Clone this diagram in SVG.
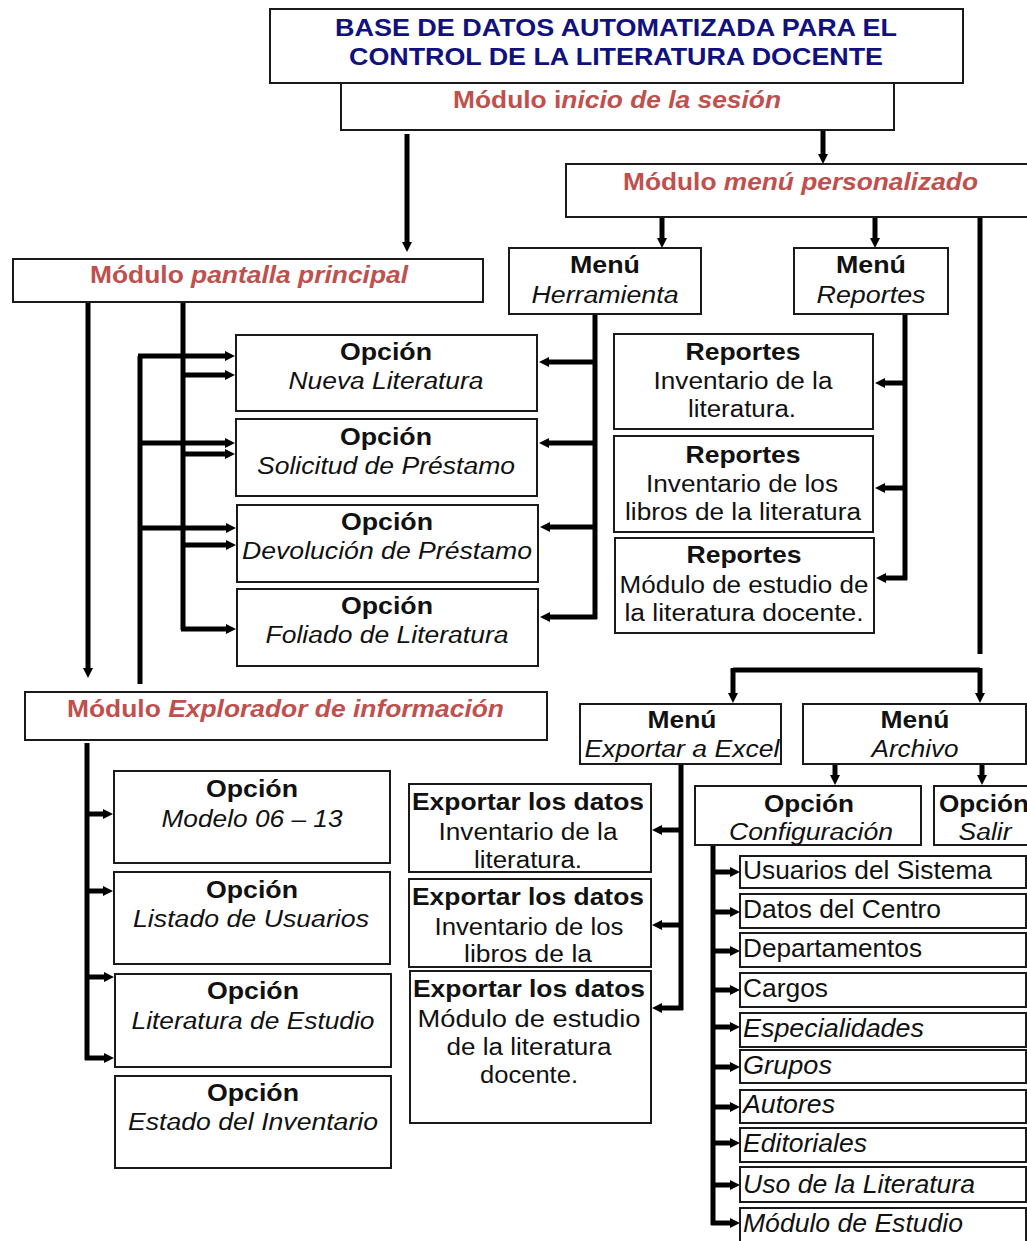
<svg xmlns="http://www.w3.org/2000/svg" width="1027" height="1241" viewBox="0 0 1027 1241">
<defs>
<style>
.bx{fill:#fff;stroke:#1a1a1a;stroke-width:2}
.t{font-family:"Liberation Sans",Arial,sans-serif;font-size:23px;fill:#111}
.c{text-anchor:middle}
.b{font-weight:bold}
.i{font-style:italic}
.ttl{font-family:"Liberation Sans",Arial,sans-serif;font-size:24px;font-weight:bold;fill:#10107f;text-anchor:middle}
.red{font-family:"Liberation Sans",Arial,sans-serif;font-size:23px;font-weight:bold;fill:#c0504d}
.li{font-family:"Liberation Sans",Arial,sans-serif;font-size:25px;fill:#111}
.ln{fill:none;stroke:#000;stroke-width:5;stroke-linejoin:miter}
.ar{fill:none;stroke:#000;stroke-width:5;marker-end:url(#ah)}
</style>
<marker id="ah" viewBox="0 0 10 10" refX="1" refY="5" markerWidth="10" markerHeight="10" markerUnits="userSpaceOnUse" orient="auto"><path d="M0,0 L10,5 L0,10 z" fill="#000"/></marker>
</defs>
<rect width="1027" height="1241" fill="#fff"/>

<g id="connectors">
<path class="ar" d="M407,134 V243"/>
<path class="ar" d="M823,131 V155"/>
<path class="ar" d="M662,217 V239"/>
<path class="ar" d="M875,217 V239"/>
<path class="ln" d="M980,217 V654"/>
<path class="ln" d="M733,670 H980"/>
<path class="ar" d="M733,668 V694"/>
<path class="ar" d="M980,668 V694"/>
<!-- Herramienta bus -->
<path class="ln" d="M595,314 V619"/>
<path class="ar" d="M597,362 H548"/>
<path class="ar" d="M597,443 H548"/>
<path class="ar" d="M597,527 H549"/>
<path class="ar" d="M597,617 H549"/>
<!-- Reportes bus -->
<path class="ln" d="M905,314 V580"/>
<path class="ar" d="M907,383 H884"/>
<path class="ar" d="M907,488 H884"/>
<path class="ar" d="M907,578 H885"/>
<!-- Pantalla buses -->
<path class="ar" d="M88,302 V669"/>
<path class="ln" d="M183,302 V630"/>
<path class="ar" d="M181,375 H226"/>
<path class="ar" d="M181,454 H226"/>
<path class="ar" d="M181,545 H227"/>
<path class="ar" d="M181,629 H227"/>
<!-- Explorador feedback -->
<path class="ln" d="M140,684 V356"/>
<path class="ar" d="M138,356 H226"/>
<path class="ar" d="M138,443 H226"/>
<path class="ar" d="M138,528 H227"/>
<!-- Explorador bus -->
<path class="ln" d="M87,743 V1060"/>
<path class="ar" d="M85,814 H104"/>
<path class="ar" d="M85,891 H104"/>
<path class="ar" d="M85,977 H105"/>
<path class="ar" d="M85,1058 H105"/>
<!-- Exportar bus -->
<path class="ln" d="M681,764 V1010"/>
<path class="ar" d="M683,830 H661"/>
<path class="ar" d="M683,925 H661"/>
<path class="ar" d="M683,1008 H661"/>
<!-- Archivo -->
<path class="ar" d="M835,764 V776"/>
<path class="ar" d="M982,764 V776"/>
<!-- Config bus -->
<path class="ln" d="M713,845 V1225"/>
<path class="ar" d="M711,872 H731"/>
<path class="ar" d="M711,912 H731"/>
<path class="ar" d="M711,951 H731"/>
<path class="ar" d="M711,990 H731"/>
<path class="ar" d="M711,1027 H731"/>
<path class="ar" d="M711,1067 H731"/>
<path class="ar" d="M711,1107 H731"/>
<path class="ar" d="M711,1143 H731"/>
<path class="ar" d="M711,1185 H731"/>
<path class="ar" d="M711,1223 H731"/>
</g>

<g id="title">
<rect class="bx" x="270" y="9" width="693" height="74"/>
<text class="ttl" x="616" y="36" textLength="562" lengthAdjust="spacingAndGlyphs">BASE DE DATOS AUTOMATIZADA PARA EL</text>
<text class="ttl" x="616" y="65" textLength="534" lengthAdjust="spacingAndGlyphs">CONTROL DE LA LITERATURA DOCENTE</text>
</g>
<g id="inicio">
<rect class="bx" x="341" y="83" width="553" height="47"/>
<text class="red" x="453" y="108" textLength="328" lengthAdjust="spacingAndGlyphs">Módulo i<tspan class="i">nicio de la sesión</tspan></text>
</g>
<g id="personalizado">
<rect class="bx" x="566" y="164" width="470" height="53"/>
<text class="red" x="623" y="190" textLength="355" lengthAdjust="spacingAndGlyphs">Módulo <tspan class="i">menú personalizado</tspan></text>
</g>
<g id="pantalla">
<rect class="bx" x="13" y="259" width="470" height="43"/>
<text class="red" x="90" y="283" textLength="318" lengthAdjust="spacingAndGlyphs">Módulo <tspan class="i">pantalla principal</tspan></text>
</g>
<g id="menu-herramienta">
<rect class="bx" x="509" y="248" width="192" height="66"/>
<text class="t c b" x="605" y="273" textLength="70" lengthAdjust="spacingAndGlyphs">Menú</text>
<text class="t c i" x="605" y="303" textLength="147" lengthAdjust="spacingAndGlyphs">Herramienta</text>
</g>
<g id="menu-reportes">
<rect class="bx" x="794" y="248" width="154" height="66"/>
<text class="t c b" x="871" y="273" textLength="70" lengthAdjust="spacingAndGlyphs">Menú</text>
<text class="t c i" x="871" y="303" textLength="109" lengthAdjust="spacingAndGlyphs">Reportes</text>
</g>

<g id="op-nueva">
<rect class="bx" x="236" y="335" width="301" height="76"/>
<text class="t c b" x="386" y="360" textLength="92" lengthAdjust="spacingAndGlyphs">Opción</text>
<text class="t c i" x="386" y="389" textLength="195" lengthAdjust="spacingAndGlyphs">Nueva Literatura</text>
</g>
<g id="op-solicitud">
<rect class="bx" x="236" y="419" width="301" height="77"/>
<text class="t c b" x="386" y="445" textLength="92" lengthAdjust="spacingAndGlyphs">Opción</text>
<text class="t c i" x="386" y="474" textLength="258" lengthAdjust="spacingAndGlyphs">Solicitud de Préstamo</text>
</g>
<g id="op-devolucion">
<rect class="bx" x="237" y="505" width="301" height="77"/>
<text class="t c b" x="387" y="530" textLength="92" lengthAdjust="spacingAndGlyphs">Opción</text>
<text class="t c i" x="387" y="559" textLength="290" lengthAdjust="spacingAndGlyphs">Devolución de Préstamo</text>
</g>
<g id="op-foliado">
<rect class="bx" x="237" y="589" width="301" height="77"/>
<text class="t c b" x="387" y="614" textLength="92" lengthAdjust="spacingAndGlyphs">Opción</text>
<text class="t c i" x="387" y="643" textLength="243" lengthAdjust="spacingAndGlyphs">Foliado de Literatura</text>
</g>

<g id="rep-1">
<rect class="bx" x="614" y="334" width="259" height="95"/>
<text class="t c b" x="743" y="360" textLength="115" lengthAdjust="spacingAndGlyphs">Reportes</text>
<text class="t c" x="743" y="389" textLength="179" lengthAdjust="spacingAndGlyphs">Inventario de la</text>
<text class="t c" x="742" y="417" textLength="108" lengthAdjust="spacingAndGlyphs">literatura.</text>
</g>
<g id="rep-2">
<rect class="bx" x="614" y="436" width="259" height="96"/>
<text class="t c b" x="743" y="463" textLength="115" lengthAdjust="spacingAndGlyphs">Reportes</text>
<text class="t c" x="742" y="492" textLength="192" lengthAdjust="spacingAndGlyphs">Inventario de los</text>
<text class="t c" x="743" y="520" textLength="236" lengthAdjust="spacingAndGlyphs">libros de la literatura</text>
</g>
<g id="rep-3">
<rect class="bx" x="615" y="538" width="259" height="95"/>
<text class="t c b" x="744" y="563" textLength="115" lengthAdjust="spacingAndGlyphs">Reportes</text>
<text class="t c" x="744" y="593" textLength="249" lengthAdjust="spacingAndGlyphs">Módulo de estudio de</text>
<text class="t c" x="744" y="621" textLength="239" lengthAdjust="spacingAndGlyphs">la literatura docente.</text>
</g>

<g id="explorador">
<rect class="bx" x="25" y="692" width="522" height="48"/>
<text class="red" x="67" y="717" textLength="437" lengthAdjust="spacingAndGlyphs">Módulo <tspan class="i">Explorador de información</tspan></text>
</g>
<g id="menu-exportar">
<rect class="bx" x="580" y="704" width="201" height="60"/>
<text class="t c b" x="682" y="728" textLength="69" lengthAdjust="spacingAndGlyphs">Menú</text>
<text class="t c i" x="682" y="757" textLength="195" lengthAdjust="spacingAndGlyphs">Exportar a Excel</text>
</g>
<g id="menu-archivo">
<rect class="bx" x="803" y="704" width="223" height="60"/>
<text class="t c b" x="915" y="728" textLength="69" lengthAdjust="spacingAndGlyphs">Menú</text>
<text class="t c i" x="915" y="757" textLength="87" lengthAdjust="spacingAndGlyphs">Archivo</text>
</g>

<g id="op-modelo">
<rect class="bx" x="114" y="771" width="276" height="92"/>
<text class="t c b" x="252" y="797" textLength="92" lengthAdjust="spacingAndGlyphs">Opción</text>
<text class="t c i" x="252" y="827" textLength="181" lengthAdjust="spacingAndGlyphs">Modelo 06 – 13</text>
</g>
<g id="op-listado">
<rect class="bx" x="114" y="872" width="276" height="92"/>
<text class="t c b" x="252" y="898" textLength="92" lengthAdjust="spacingAndGlyphs">Opción</text>
<text class="t c i" x="251" y="927" textLength="236" lengthAdjust="spacingAndGlyphs">Listado de Usuarios</text>
</g>
<g id="op-literatura">
<rect class="bx" x="115" y="974" width="276" height="93"/>
<text class="t c b" x="253" y="999" textLength="92" lengthAdjust="spacingAndGlyphs">Opción</text>
<text class="t c i" x="253" y="1029" textLength="243" lengthAdjust="spacingAndGlyphs">Literatura de Estudio</text>
</g>
<g id="op-estado">
<rect class="bx" x="115" y="1076" width="276" height="92"/>
<text class="t c b" x="253" y="1101" textLength="92" lengthAdjust="spacingAndGlyphs">Opción</text>
<text class="t c i" x="253" y="1130" textLength="250" lengthAdjust="spacingAndGlyphs">Estado del Inventario</text>
</g>

<g id="exp-1">
<rect class="bx" x="409" y="784" width="242" height="88"/>
<text class="t c b" x="528" y="810" textLength="232" lengthAdjust="spacingAndGlyphs">Exportar los datos</text>
<text class="t c" x="528" y="840" textLength="179" lengthAdjust="spacingAndGlyphs">Inventario de la</text>
<text class="t c" x="528" y="868" textLength="108" lengthAdjust="spacingAndGlyphs">literatura.</text>
</g>
<g id="exp-2">
<rect class="bx" x="409" y="879" width="242" height="88"/>
<text class="t c b" x="528" y="905" textLength="232" lengthAdjust="spacingAndGlyphs">Exportar los datos</text>
<text class="t c" x="529" y="935" textLength="189" lengthAdjust="spacingAndGlyphs">Inventario de los</text>
<text class="t c" x="528" y="962" textLength="128" lengthAdjust="spacingAndGlyphs">libros de la</text>
</g>
<g id="exp-3">
<rect class="bx" x="410" y="971" width="241" height="152"/>
<text class="t c b" x="529" y="997" textLength="232" lengthAdjust="spacingAndGlyphs">Exportar los datos</text>
<text class="t c" x="529" y="1027" textLength="223" lengthAdjust="spacingAndGlyphs">Módulo de estudio</text>
<text class="t c" x="529" y="1055" textLength="165" lengthAdjust="spacingAndGlyphs">de la literatura</text>
<text class="t c" x="529" y="1083" textLength="98" lengthAdjust="spacingAndGlyphs">docente.</text>
</g>

<g id="op-configuracion">
<rect class="bx" x="695" y="786" width="226" height="59"/>
<text class="t c b" x="809" y="812" textLength="90" lengthAdjust="spacingAndGlyphs">Opción</text>
<text class="t c i" x="811" y="840" textLength="164" lengthAdjust="spacingAndGlyphs">Configuración</text>
</g>
<g id="op-salir">
<rect class="bx" x="934" y="786" width="110" height="59"/>
<text class="t b" x="939" y="812" textLength="90" lengthAdjust="spacingAndGlyphs">Opción</text>
<text class="t c i" x="985" y="840" textLength="53" lengthAdjust="spacingAndGlyphs">Salir</text>
</g>

<g id="cfg-usuarios"><rect class="bx" x="740" y="856" width="286" height="32"/><text class="li" x="743" y="879" textLength="249" lengthAdjust="spacingAndGlyphs">Usuarios del Sistema</text></g>
<g id="cfg-datos"><rect class="bx" x="740" y="894" width="286" height="34"/><text class="li" x="743" y="918" textLength="198" lengthAdjust="spacingAndGlyphs">Datos del Centro</text></g>
<g id="cfg-departamentos"><rect class="bx" x="740" y="933" width="286" height="34"/><text class="li" x="743" y="957" textLength="179" lengthAdjust="spacingAndGlyphs">Departamentos</text></g>
<g id="cfg-cargos"><rect class="bx" x="740" y="973" width="286" height="34"/><text class="li" x="743" y="997" textLength="85" lengthAdjust="spacingAndGlyphs">Cargos</text></g>
<g id="cfg-especialidades"><rect class="bx" x="740" y="1013" width="286" height="34"/><text class="li i" x="743" y="1037" textLength="181" lengthAdjust="spacingAndGlyphs">Especialidades</text></g>
<g id="cfg-grupos"><rect class="bx" x="740" y="1050" width="286" height="33"/><text class="li i" x="743" y="1074" textLength="89" lengthAdjust="spacingAndGlyphs">Grupos</text></g>
<g id="cfg-autores"><rect class="bx" x="740" y="1090" width="286" height="33"/><text class="li i" x="743" y="1113" textLength="92" lengthAdjust="spacingAndGlyphs">Autores</text></g>
<g id="cfg-editoriales"><rect class="bx" x="740" y="1128" width="286" height="34"/><text class="li i" x="743" y="1152" textLength="124" lengthAdjust="spacingAndGlyphs">Editoriales</text></g>
<g id="cfg-uso"><rect class="bx" x="740" y="1167" width="286" height="35"/><text class="li i" x="743" y="1193" textLength="232" lengthAdjust="spacingAndGlyphs">Uso de la Literatura</text></g>
<g id="cfg-modulo"><rect class="bx" x="740" y="1208" width="286" height="40"/><text class="li i" x="743" y="1232" textLength="220" lengthAdjust="spacingAndGlyphs">Módulo de Estudio</text></g>
</svg>
